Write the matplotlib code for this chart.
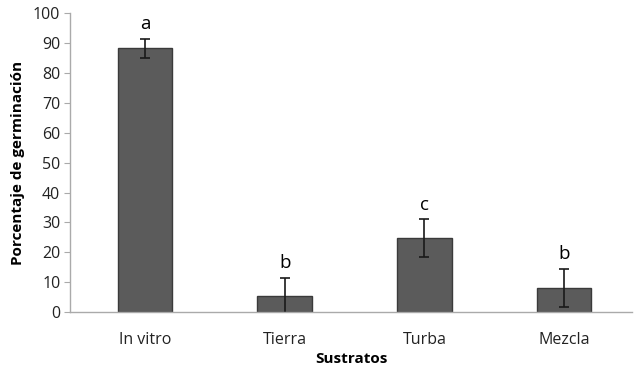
import numpy as np
import matplotlib.pyplot as plt

sustratos = ['In vitro', 'Tierra', 'Turba', 'Mezcla']
germinacion = [88.2, 5.5, 24.8, 8.2]
error = [3.2, 6.0, 6.2, 6.3]
letras = ['a', 'b', 'c', 'b']

plt.rcParams['font.family'] = ['Open Sans', 'DejaVu Sans']

fig = plt.figure(figsize=(6.37, 3.73), dpi=100)
ax = fig.add_axes([0.110, 0.163, 0.882, 0.802])

x = np.arange(len(sustratos))
ax.bar(x, germinacion, width=0.39, color='#5b5b5b', edgecolor='#3a3a3a', linewidth=1.0,
       yerr=error, error_kw=dict(ecolor='#1a1a1a', elinewidth=1.2, capsize=3.5, capthick=1.2))

for xi, v, e, l in zip(x, germinacion, error, letras):
    ax.text(xi, v + e + 1.8, l, ha='center', va='bottom', fontsize=13.5)

ax.set_xlim(-0.536, 3.486)
ax.set_ylim(0, 100)
ax.set_yticks(np.arange(0, 101, 10))
ax.set_xticks(x)
ax.set_xticklabels(sustratos)
ax.tick_params(axis='both', labelsize=11.5, colors='#222222')
ax.tick_params(axis='y', length=4, color='#aaaaaa', pad=3)
ax.tick_params(axis='x', length=0, pad=14)

for s in ['top', 'right']:
    ax.spines[s].set_visible(False)
for s in ['left', 'bottom']:
    ax.spines[s].set_color('#aaaaaa')
    ax.spines[s].set_linewidth(1.0)

ax.set_xlabel('Sustratos', fontsize=11, fontweight='bold', labelpad=3)
ax.set_ylabel('Porcentaje de germinación', fontsize=11, fontweight='bold', labelpad=6)

fig.savefig('out.png', dpi=100)
